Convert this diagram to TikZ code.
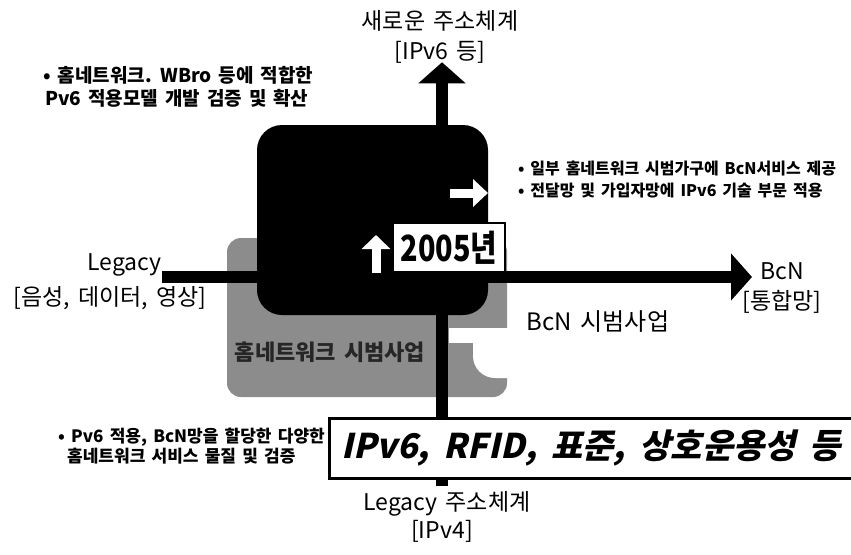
\documentclass[tikz,border=0pt]{standalone}
\usepackage{fontspec}
\usepackage{graphicx}
\setmainfont[WordSpace=1.6]{Noto Sans CJK KR}
\newfontfamily\slantfont[FakeSlant=0.22]{Noto Sans CJK KR}
\usetikzlibrary{arrows.meta}
\definecolor{boxgray}{RGB}{140,140,140}
\newcommand{\bgap}{\hspace{14pt}}
\begin{document}
\begin{tikzpicture}[x=1pt,y=-1pt,
  lbl/.style={font=\fontsize{23}{28}\selectfont, inner sep=0pt},
  bul/.style={font=\bfseries, align=left, inner sep=0pt, anchor=west},
  axis/.style={line width=12pt, -{Triangle[length=21pt,width=46pt]}},
  warrow/.style={white, line width=9pt}
]
\useasboundingbox (0,0) rectangle (851,554);
% gray and black boxes
\fill[boxgray, rounded corners=14pt] (227,238) rectangle (507,397);
\fill[white] (449,328) rectangle (560,343);
\fill[white] (473,328) rectangle (560,356);
\fill[white, rounded corners=22pt] (473,330) rectangle (580,378);
\fill[black, rounded corners=25pt] (257,125) rectangle (488,315);
\node[font=\bfseries\fontsize{22}{22}\selectfont, text=black!85, inner sep=0pt] (homenet) at (330,352) {홈네트워크 시범사업};

% labels
\node[lbl] (top1) at (440,21) {새로운 주소체계};
\node[lbl] (top2) at (440,52) {[IPv6 등]};
\node[lbl, anchor=east] (legacy) at (162,265) {Legacy};
\node[lbl] (voice) at (110,298) {[음성, 데이터, 영상]};
\node[lbl, anchor=west] (bcn) at (760,271) {BcN};
\node[lbl] (bcn2) at (782,302) {[통합망]};
\node[lbl, font=\fontsize{24}{28}\selectfont] (bcnpilot) at (598,322) {BcN 시범사업};
\node[lbl] (bot1) at (447,504) {Legacy 주소체계};
\node[lbl] (bot2) at (442,531) {[IPv4]};

% axes
\coordinate (hax) at (0,277);
\coordinate (vax) at (442,0);
\draw[axis] (legacy.east |- hax) -- ([xshift=-8pt]bcn.west |- hax);
\draw[axis] ([yshift=5pt]bot1.north -| vax) -- ([yshift=1pt]top2.south -| vax);

% white arrows in black box
\coordinate (ua1) at (376,273);
\coordinate (ua2) at (376,235);
\coordinate (ra1) at (450,193);
\coordinate (ra2) at (488,193);
\draw[warrow, -{Triangle[length=14pt,width=28pt]}] (ua1) -- (ua2);
\draw[warrow, -{Triangle[length=15pt,width=27pt]}] (ra1) -- (ra2);

% 2005 box
\node[draw, line width=2pt, fill=white, minimum width=112pt, minimum height=49pt, inner sep=0pt] (y2005) at (449,247.5) {\bfseries\fontsize{36}{36}\selectfont\scalebox{0.8}[1]{2005년}};

% banner
\node[draw, line width=2.5pt, fill=white, anchor=north west, minimum height=60pt, text width=520pt, inner xsep=12pt, inner ysep=0pt, align=left] (banner) at (328,417) {\slantfont\bfseries\fontsize{34}{34}\selectfont IPv6,\bgap RFID,\bgap 표준,\bgap 상호운용성\bgap 등};

% bullets
\node[bul, font=\bfseries\fontsize{19}{23}\selectfont] (tl) at (43,87) {• 홈네트워크. WBro 등에 적합한\\\hspace*{2pt}Pv6 적용모델 개발 검증 및 확산};
\node[bul, font=\bfseries\fontsize{16}{22}\selectfont] (tr) at (518,179) {• 일부 홈네트워크 시범가구에 BcN서비스 제공\\• 전달망 및 가입자망에 IPv6 기술 부문 적용};
\node[bul, font=\bfseries\fontsize{17}{20}\selectfont] (bl) at (58,446) {• Pv6 적용, BcN망을 할당한 다양한\\\hspace*{9pt}홈네트워크 서비스 물질 및 검증};
\end{tikzpicture}
\end{document}
